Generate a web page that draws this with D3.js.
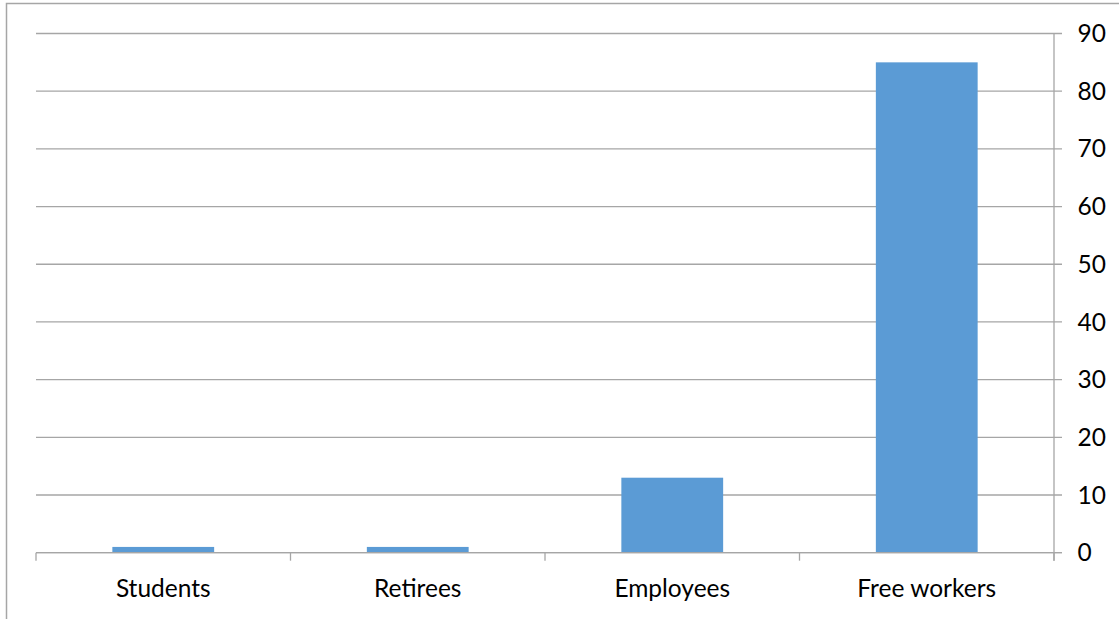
<!DOCTYPE html>
<html>
<head>
<meta charset="utf-8">
<script src="https://cdn.jsdelivr.net/npm/d3@7"></script>
<style>
  html, body { margin: 0; padding: 0; background: #fff; }
  svg { display: block; }
  text { font-family: Lato, "Open Sans", sans-serif; fill: #000; }
</style>
</head>
<body>
<svg id="chart" width="1119" height="619"></svg>
<script>
// Respondents by occupation
const categories = ["Students", "Retirees", "Employees", "Free workers"];
const values = [1, 1, 13, 85];
const yTicks = [0, 10, 20, 30, 40, 50, 60, 70, 80, 90];

const W = 1119, H = 619;
const plot = { left: 36, right: 1054, top: 33.5, bottom: 552.7 };
const gridColor = "#a6a6a6";
const barColor = "#5b9bd5";
const fontSize = 24.5;

const svg = d3.select("#chart");

// Outer frame of the chart area
svg.append("rect")
  .attr("x", 6.5).attr("y", 3.5)
  .attr("width", W + 20).attr("height", H + 20)
  .attr("fill", "none").attr("stroke", gridColor).attr("stroke-width", 1.5);

const x = d3.scaleBand()
  .domain(categories)
  .range([plot.left, plot.right])
  .paddingInner(0.6)
  .paddingOuter(0.3);

const y = d3.scaleLinear()
  .domain([0, 90])
  .range([plot.bottom, plot.top]);

// Horizontal gridlines with tick stubs past the right axis
const grid = svg.append("g");
grid.selectAll("line.grid")
  .data(yTicks)
  .join("line")
  .attr("class", "grid")
  .attr("x1", plot.left).attr("x2", plot.right + 8)
  .attr("y1", d => y(d)).attr("y2", d => y(d))
  .attr("stroke", gridColor).attr("stroke-width", 1.3);

// Right value axis
svg.append("line")
  .attr("x1", plot.right).attr("x2", plot.right)
  .attr("y1", y(90)).attr("y2", plot.bottom + 8)
  .attr("stroke", gridColor).attr("stroke-width", 1.3);

svg.append("g").selectAll("text")
  .data(yTicks)
  .join("text")
  .attr("x", plot.right + 23.5)
  .attr("y", d => y(d))
  .attr("dy", "0.35em")
  .attr("font-size", fontSize)
  .text(d => d);

// Category boundary ticks below the baseline
const step = x.step();
const boundaries = d3.range(categories.length + 1).map(i => plot.left + i * step);
svg.append("g").selectAll("line")
  .data(boundaries)
  .join("line")
  .attr("x1", d => d).attr("x2", d => d)
  .attr("y1", plot.bottom).attr("y2", plot.bottom + 8)
  .attr("stroke", gridColor).attr("stroke-width", 1.3);

// Bars
svg.append("g").selectAll("rect")
  .data(categories.map((c, i) => ({ c, v: values[i] })))
  .join("rect")
  .attr("x", d => x(d.c))
  .attr("width", x.bandwidth())
  .attr("y", d => y(d.v))
  .attr("height", d => y(0) - y(d.v))
  .attr("fill", barColor);

// Baseline drawn over the bars
svg.append("line")
  .attr("x1", plot.left).attr("x2", plot.right + 8)
  .attr("y1", plot.bottom).attr("y2", plot.bottom)
  .attr("stroke", gridColor).attr("stroke-width", 1.3);

// Category labels
svg.append("g").selectAll("text")
  .data(categories)
  .join("text")
  .attr("x", d => x(d) + x.bandwidth() / 2)
  .attr("y", 596.5)
  .attr("text-anchor", "middle")
  .attr("font-size", fontSize)
  .text(d => d);
</script>
</body>
</html>
